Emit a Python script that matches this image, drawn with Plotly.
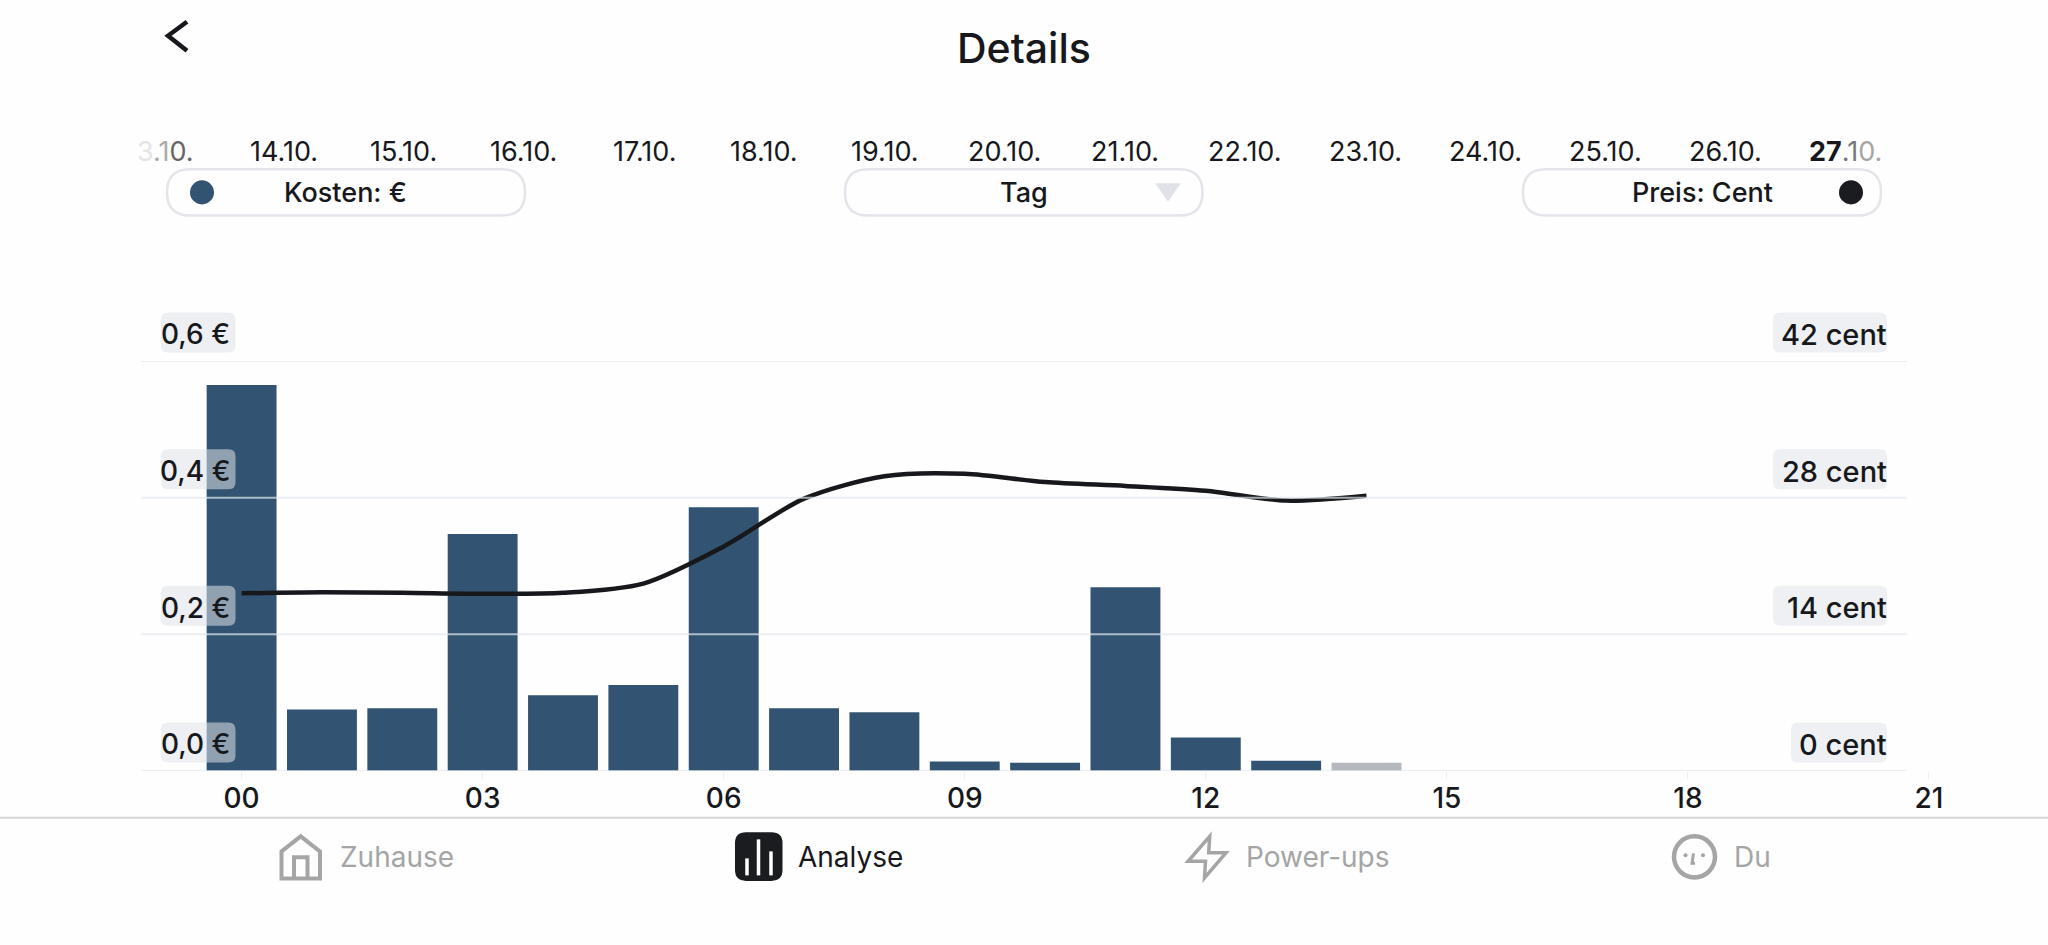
import plotly.graph_objects as go

# chart values
hours = list(range(15))
kosten = [0.565, 0.090, 0.092, 0.347, 0.111, 0.126, 0.386, 0.092, 0.086, 0.014, 0.012, 0.269, 0.049, 0.015, 0.012]
preis = [18.2, 18.3, 18.25, 18.15, 18.25, 19.2, 23.0, 27.9, 30.2, 30.45, 29.6, 29.2, 28.7, 27.7, 28.2]
bar_colors = ["#325472"] * 14 + ["#b5b8be"]

x_ticks = [0, 3, 6, 9, 12, 15, 18, 21]
x_labels = ["00", "03", "06", "09", "12", "15", "18", "21"]
kosten_ticks = [0.0, 0.2, 0.4, 0.6]
kosten_labels = ["0,0 €", "0,2 €", "0,4 €", "0,6 €"]
preis_ticks = [0, 14, 28, 42]
preis_labels = ["0 cent", "14 cent", "28 cent", "42 cent"]
dates = ["14.10.", "15.10.", "16.10.", "17.10.", "18.10.", "19.10.", "20.10.",
         "21.10.", "22.10.", "23.10.", "24.10.", "25.10.", "26.10."]

W, H = 2048, 945
L, R, T, B = 141, 1940, 361, 770.7
FONT = "Inter"
DARK = "#17181c"
GREY = "#a5a5a5"
CHIP = "#eef0f3"


def px(x):
    return (x - L) / (R - L)


def py(y):
    return (B - y) / (B - T)


def path(points, close=False):
    d = "M" + " L".join(f"{px(x):.5f},{py(y):.5f}" for x, y in points)
    return d + (" Z" if close else "")


def rounded(x0, y0, x1, y1, r):
    # rounded rect as svg path, corners done with quadratic curves
    a, b, c, d = px(x0), px(x1), py(y0), py(y1)
    rx, ry = r / (R - L), r / (B - T)
    return (f"M{a + rx:.5f},{c:.5f} L{b - rx:.5f},{c:.5f} Q{b:.5f},{c:.5f} {b:.5f},{c - ry:.5f} "
            f"L{b:.5f},{d + ry:.5f} Q{b:.5f},{d:.5f} {b - rx:.5f},{d:.5f} "
            f"L{a + rx:.5f},{d:.5f} Q{a:.5f},{d:.5f} {a:.5f},{d + ry:.5f} "
            f"L{a:.5f},{c - ry:.5f} Q{a:.5f},{c:.5f} {a + rx:.5f},{c:.5f} Z")


def label(x, y, text, size=27, color=DARK, weight=None):
    font = dict(family=FONT, size=size, color=color)
    if weight:
        font["weight"] = weight
    return dict(x=px(x), y=py(y), xref="paper", yref="paper", text=text, showarrow=False,
                xanchor="center", yanchor="middle", font=font)


def stroke(d, color, width, fill=None):
    shape = dict(type="path", xref="paper", yref="paper", path=d, layer="above",
                 line=dict(color=color, width=width))
    if fill:
        shape["fillcolor"] = fill
    return shape


def circle(cx, cy, r, fill=None, color=None, width=0):
    return dict(type="circle", xref="paper", yref="paper", layer="above",
                x0=px(cx - r), x1=px(cx + r), y0=py(cy + r), y1=py(cy - r),
                fillcolor=fill or "rgba(0,0,0,0)", line=dict(color=color or "rgba(0,0,0,0)", width=width))


fig = go.Figure()
fig.add_trace(go.Bar(x=hours, y=kosten, marker=dict(color=bar_colors, line_width=0), yaxis="y", width=0.87))
fig.add_trace(go.Scatter(x=hours, y=preis, mode="lines", yaxis="y2", cliponaxis=False,
                         line=dict(color=DARK, width=4.5, shape="spline", smoothing=0.8)))

shapes = []
annotations = []

# gridlines go over the bars, they show as a pale stripe there
for v in kosten_ticks:
    shapes.append(dict(type="line", xref="paper", yref="y", x0=0, x1=px(1907), y0=v, y1=v, layer="above",
                       line=dict(color="rgba(226,231,236,0.7)", width=2)))

# axis chips, left and right
for v, t in zip(kosten_ticks, kosten_labels):
    y = B - (B - T) * v / 0.6
    shapes.append(dict(type="path", xref="paper", yref="paper", layer="above", line_width=0,
                       path=rounded(161, y - 48.5, 235.5, y - 8.5, 7), fillcolor="rgba(222,226,232,0.55)"))
    annotations.append(label(195, y - 26.5, t, 28, DARK, 500))
for v, t in zip(preis_ticks, preis_labels):
    y = B - (B - T) * v / 42
    left = 1791 if v == 0 else 1773
    shapes.append(dict(type="path", xref="paper", yref="paper", layer="above", line_width=0,
                       path=rounded(left, y - 48.5, 1887, y - 8.5, 7), fillcolor=CHIP))
    annotations.append(dict(label(1889, y - 26.5, t, 29, DARK, 500), xanchor="right"))

# header
shapes.append(dict(type="path", xref="paper", yref="paper", layer="above",
                   path=path([(187, 22), (168, 36), (187, 51)]), line=dict(color=DARK, width=4.5)))
annotations.append(label(1024, 48.5, "Details", 41, DARK, 500))

# date strip
for i, d in enumerate(dates):
    annotations.append(label(283.5 + 120.2 * i, 152, d, 27))
annotations.append(label(165, 152, '<span style="color:#e4e4e4">3</span><span style="color:#aaaaaa">.1</span>'
                                   '<span style="color:#666666">0.</span>', 27))
annotations.append(label(1845, 152, '<b>27</b><span style="color:#777777">.1</span>'
                                    '<span style="color:#a5a5a5">0.</span>', 27))

# selector pills
for x0, x1 in [(167, 525), (845, 1202.5), (1523, 1881)]:
    shapes.append(stroke(rounded(x0, 169.5, x1, 215.5, 23), "#e3e5ea", 2.5))
shapes.append(circle(202, 192.5, 12, fill="#325472"))
shapes.append(circle(1851, 192.5, 12, fill="#1b1c20"))
shapes.append(stroke(path([(1156, 184), (1180, 184), (1168, 201)], True), "#e0e2e7", 1, "#e0e2e7"))
annotations.append(label(345, 192.5, "Kosten: €", 27, DARK, 500))
annotations.append(label(1024, 192.5, "Tag", 27, DARK, 500))
annotations.append(label(1702, 192.5, "Preis: Cent", 27, DARK, 500))

# bottom nav
shapes.append(stroke(path([(0, 817.5), (W, 817.5)]), "#d6d6d6", 2))
shapes.append(stroke(path([(281.5, 851), (300.7, 836), (320, 851), (320, 878), (281.5, 878)], True), GREY, 4))
shapes.append(stroke(path([(294, 878), (294, 857), (307.5, 857), (307.5, 878)]), GREY, 4))
annotations.append(label(397, 856.5, "Zuhause", 28, GREY))

shapes.append(stroke(rounded(735, 832, 782.5, 880.5, 11), "#1b1c20", 0, "#1b1c20"))
for bx, top in [(747, 858), (758.5, 839), (771, 851)]:
    shapes.append(stroke(path([(bx, top), (bx, 875)]), "#ffffff", 3.5))
annotations.append(label(850, 856.5, "Analyse", 28))

shapes.append(stroke(path([(1209.7, 836), (1188, 861), (1205.5, 861), (1204.5, 877.5), (1226, 852.5), (1208.7, 852.5)], True), GREY, 3.5))
annotations.append(label(1318, 856.5, "Power-ups", 28, GREY))

shapes.append(circle(1694.5, 856.5, 20.5, color=GREY, width=4.5))
shapes.append(circle(1685.5, 855, 2, fill=GREY))
shapes.append(circle(1703, 855, 2, fill=GREY))
shapes.append(stroke(path([(1693.5, 853), (1692, 863), (1695, 863)]), GREY, 3))
annotations.append(label(1752, 856.5, "Du", 28, GREY))

fig.update_layout(
    width=W,
    height=H,
    margin=dict(l=L, r=W - R, t=T, b=H - B, pad=0),
    paper_bgcolor="#fefefe",
    plot_bgcolor="#fefefe",
    showlegend=False,
    bargap=0.13,
    shapes=shapes,
    annotations=annotations,
    xaxis=dict(range=[(L - 241.6) / 80.35, (R - 241.6) / 80.35], tickmode="array", tickvals=x_ticks, ticktext=x_labels,
               showgrid=False, zeroline=False, showline=False, ticks="outside", ticklen=7, tickcolor="#eeeeee",
               ticklabelstandoff=-5, tickfont=dict(family=FONT, size=28, color=DARK, weight=500)),
    yaxis=dict(range=[0, 0.6], showgrid=False, zeroline=False, showticklabels=False),
    yaxis2=dict(range=[0, 42], overlaying="y", side="right", showgrid=False, zeroline=False, showticklabels=False),
)

fig.write_html("out.html", config=dict(displayModeBar=False), post_script="document.body.style.margin='0';")
